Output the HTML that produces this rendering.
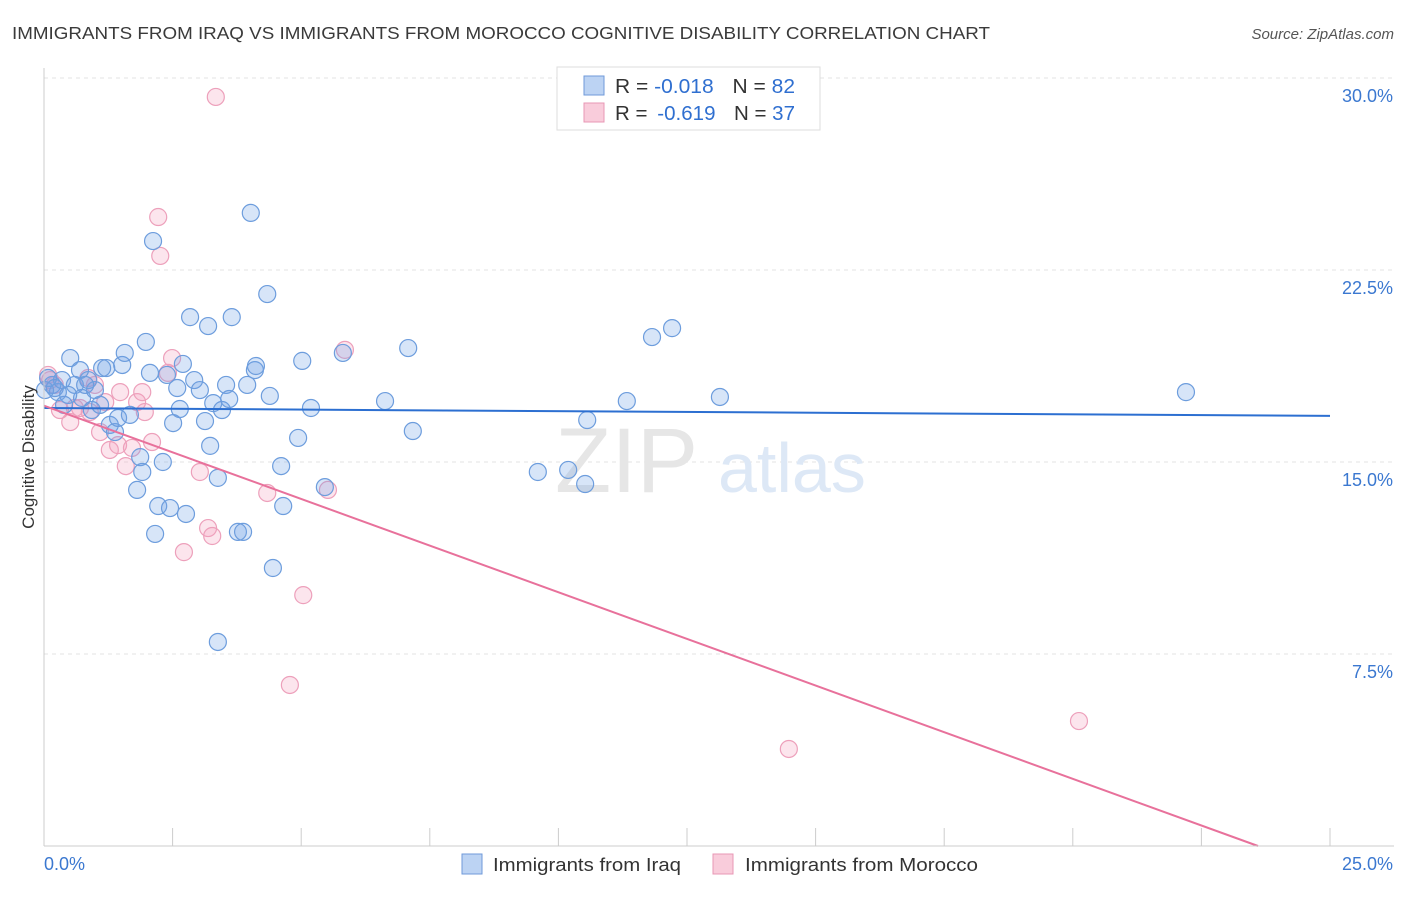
<!DOCTYPE html>
<html><head><meta charset="utf-8"><style>
body{margin:0;background:#fff;font-family:"Liberation Sans",sans-serif;}
svg text{font-family:"Liberation Sans",sans-serif;}
</style></head><body>
<svg id="chart" width="1406" height="892" viewBox="0 0 1406 892" xmlns="http://www.w3.org/2000/svg">
<text x="12" y="39" font-size="17.5" fill="#3a3a3a" textLength="978" lengthAdjust="spacingAndGlyphs">IMMIGRANTS FROM IRAQ VS IMMIGRANTS FROM MOROCCO COGNITIVE DISABILITY CORRELATION CHART</text>
<text x="1394" y="39" font-size="15" fill="#555" font-style="italic" text-anchor="end">Source: ZipAtlas.com</text>
<g id="grid"></g>
<g><text x="555" y="492" font-size="92" fill="#e6e6e6" font-family="Liberation Serif">ZIP</text><text x="718" y="492" font-size="70" fill="#dde8f6">atlas</text></g>
<g id="pts"></g>
<g id="lines"></g>
<g id="axes"></g>
<text transform="translate(34,457) rotate(-90)" font-size="17" fill="#333" text-anchor="middle">Cognitive Disability</text>
<g>
<rect x="557" y="67" width="263" height="63" fill="#fff" stroke="#ddd"/>
<rect x="584" y="76" width="20" height="19" fill="#bcd3f3" stroke="#6f9ad9"/>
<rect x="584" y="103" width="20" height="19" fill="#f9ccdb" stroke="#e897b4"/>
<text x="615" y="93" font-size="20" fill="#333" textLength="180" lengthAdjust="spacingAndGlyphs">R = <tspan fill="#2f6fd0">-0.018</tspan><tspan dx="18">N = </tspan><tspan fill="#2f6fd0">82</tspan></text>
<text x="615" y="120" font-size="20" fill="#333" textLength="180" lengthAdjust="spacingAndGlyphs">R = <tspan dx="4" fill="#2f6fd0">-0.619</tspan><tspan dx="18">N = </tspan><tspan fill="#2f6fd0">37</tspan></text>
</g>
<g>
<rect x="462" y="854" width="20" height="20" fill="#bcd3f3" stroke="#6f9ad9"/>
<text x="493" y="871" font-size="18" fill="#333" textLength="188" lengthAdjust="spacingAndGlyphs">Immigrants from Iraq</text>
<rect x="713" y="854" width="20" height="20" fill="#f9ccdb" stroke="#e897b4"/>
<text x="745" y="871" font-size="18" fill="#333" textLength="233" lengthAdjust="spacingAndGlyphs">Immigrants from Morocco</text>
</g>
</svg>
<script>
const yTicks=[7.5,15,22.5,30];
const yTickLabels=["7.5%","15.0%","22.5%","30.0%"];
const xTickLabels=["0.0%","25.0%"];
const iraqX=[0.16,0.27,0.35,0.51,0.60,0.70,0.74,0.86,0.93,0.99,1.09,1.13,1.21,1.28,1.38,1.44,1.52,1.57,1.67,1.81,1.87,1.91,1.98,2.06,2.12,2.16,2.22,2.31,2.39,2.45,2.51,2.59,2.64,2.70,2.76,2.84,2.92,3.03,3.13,3.19,3.23,3.29,3.38,3.46,3.54,3.60,3.65,3.77,3.87,3.95,4.02,4.10,4.12,4.34,4.39,4.45,4.61,4.65,4.94,5.02,5.19,5.46,5.81,6.63,7.08,7.17,3.38,9.60,10.19,10.52,10.56,11.33,11.82,12.21,13.14,22.20,0.02,0.08,0.21,0.47,0.80,0.39];
const iraqY=[18.01,17.73,18.20,19.06,18.01,18.59,17.50,18.20,17.03,17.81,17.23,18.67,18.67,16.45,16.17,16.72,18.79,19.26,16.84,13.91,15.19,14.61,19.69,18.48,23.63,12.19,13.28,15.00,18.40,13.20,16.52,17.89,17.07,18.83,12.97,20.66,18.20,17.81,16.60,20.31,15.63,17.30,14.38,17.03,18.01,17.46,20.66,12.27,12.27,18.01,24.73,18.59,18.75,21.56,17.58,10.86,14.84,13.28,15.94,18.95,17.11,14.02,19.26,17.38,19.45,16.21,7.97,14.61,14.69,14.14,16.64,17.38,19.88,20.23,17.54,17.73,17.81,18.28,17.89,17.62,18.01,17.23];
const morX=[3.34,2.22,2.26,2.49,2.41,5.85,0.08,0.21,0.31,0.51,0.60,0.86,0.99,1.09,1.19,1.28,1.44,1.48,1.59,1.71,1.81,1.91,1.96,2.10,2.72,3.03,3.19,3.27,4.34,5.52,5.04,4.78,14.48,20.12,0.70,0.12,0.89];
const morY=[29.26,24.57,23.05,19.06,18.48,19.38,18.40,18.01,17.03,16.56,17.11,18.28,18.01,16.17,17.34,15.47,15.66,17.73,14.84,15.55,17.34,17.73,16.95,15.78,11.48,14.61,12.42,12.11,13.79,13.91,9.80,6.29,3.79,4.88,17.11,18.20,16.95];
const iraqTrend=[17.11,16.80];
const morTrend=[17.2,0];
const morTrendEndX=23.6;
const NS="http://www.w3.org/2000/svg";
const X=v=>44+v/25*1286;
const Y=v=>846-v/7.5*192;
function mk(t,a,p){const e=document.createElementNS(NS,t);for(const k in a)e.setAttribute(k,a[k]);p.appendChild(e);return e;}
const grid=document.getElementById('grid');
yTicks.forEach((t,i)=>{
 const l=mk('line',{x1:44,x2:1394,y1:Y(t),y2:Y(t),stroke:'#e3e3e3','stroke-dasharray':'4,4'},grid);
 
 
 const tx=mk('text',{x:1393,y:Y(t)+24,'font-size':18,fill:'#3b78d0','text-anchor':'end'},grid);
 tx.textContent=yTickLabels[i];
 
 
});
const axes=document.getElementById('axes');
mk('line',{x1:44,x2:44,y1:68,y2:846,stroke:'#ccc'},axes);
mk('line',{x1:44,x2:1394,y1:846,y2:846,stroke:'#ccc'},axes);
for(let i=0;i<=10;i++){const l=mk('line',{x1:X(i*2.5),x2:X(i*2.5),y1:828,y2:846,stroke:'#ccc'},axes);
 
 }
const xl0=mk('text',{x:44,y:870,'font-size':18,fill:'#3b78d0'},axes);xl0.textContent=xTickLabels[0];


const xl1=mk('text',{x:1393,y:870,'font-size':18,fill:'#3b78d0','text-anchor':'end'},axes);xl1.textContent=xTickLabels[1];


const pts=document.getElementById('pts');
morX.forEach((v,i)=>{const c=mk('circle',{cx:X(v),cy:Y(morY[i]),r:8.5,fill:'rgba(243,160,190,0.28)',stroke:'#eda0bb','stroke-width':1.2},pts);
 
 });
iraqX.forEach((v,i)=>{const c=mk('circle',{cx:X(v),cy:Y(iraqY[i]),r:8.5,fill:'rgba(110,160,230,0.28)',stroke:'#6d9ddd','stroke-width':1.2},pts);
 
 });
const lines=document.getElementById('lines');
const l1=mk('line',{x1:X(0),y1:Y(iraqTrend[0]),x2:X(25),y2:Y(iraqTrend[1]),stroke:'#2c6fd1','stroke-width':2},lines);


const l2=mk('line',{x1:X(0),y1:Y(morTrend[0]),x2:X(morTrendEndX),y2:Y(morTrend[1]),stroke:'#e8719b','stroke-width':2},lines);


</script>
</body></html>
